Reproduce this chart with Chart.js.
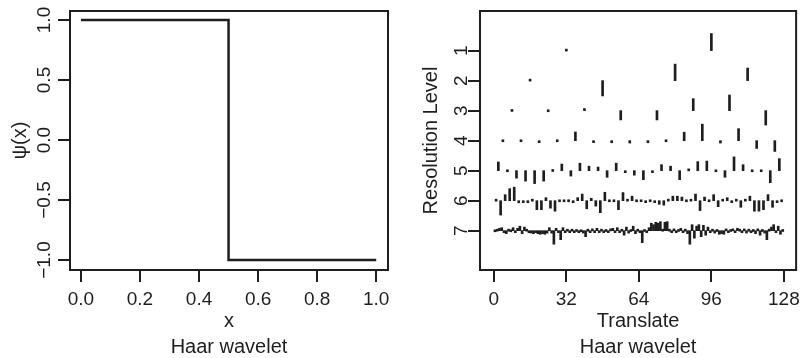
<!DOCTYPE html>
<html>
<head>
<meta charset="utf-8">
<script src="https://cdn.jsdelivr.net/npm/chart.js@4.4.1/dist/chart.umd.min.js"></script>
<style>
  html, body { margin: 0; padding: 0; background: #fff; }
  #wrap { position: relative; width: 806px; height: 358px; }
  canvas { position: absolute; top: 0; }
  #haarFn { left: 0; }
  #haarCoef { left: 400px; }
</style>
</head>
<body>
<div id="wrap">
  <canvas id="haarFn" width="400" height="358"></canvas>
  <canvas id="haarCoef" width="406" height="358"></canvas>
</div>
<script>
// ---- left panel: Haar mother wavelet psi(x) ----
const psiX = [0, 0.5, 0.5, 1];
const psiY = [1, 1, -1, -1];
const psiXTicks = [0, 0.2, 0.4, 0.6, 0.8, 1.0];
const psiYTicks = [-1, -0.5, 0, 0.5, 1];

// ---- right panel: wavelet coefficients by resolution level ----
// signed length of each coefficient's segment, in level units (positive = up)
const translateTicks = [0, 32, 64, 96, 128];
const levelTicks = [1, 2, 3, 4, 5, 6, 7];

const level1 = [0.05, 0.57];
const level2 = [0.05, -0.51, 0.55, 0.42];
const level3 = [0.04, 0.03, 0.07, -0.31, -0.31, 0.40, 0.52, -0.48];
const level4 = [0.03, 0.03, -0.06, 0.03, 0.29, -0.03, -0.07, -0.08,
                -0.07, 0.03, 0.28, 0.55, -0.08, 0.40, -0.26, -0.36];
const level5 = [0.29, 0.03, -0.25, -0.35, -0.43, -0.35, 0.04, 0.22,
                -0.18, 0.25, 0.15, 0.12, -0.22, 0.25, -0.05, -0.15,
                -0.30, -0.04, 0.20, 0.15, -0.30, 0.06, 0.30, 0.32,
                0.03, -0.22, 0.46, 0.20, 0.03, 0.03, -0.40, 0.40];
const level6 = [0.05, -0.48, 0.20, 0.40, 0.45, -0.07, -0.05, -0.03,
                0.05, -0.30, -0.30, 0.10, -0.25, -0.35, 0.03, 0.03,
                0.03, -0.05, 0.10, 0.22, -0.27, 0.08, -0.18, -0.40,
                0.28, 0.03, 0.03, -0.30, 0.27, 0.05, 0.15, 0.03,
                0.03, -0.03, 0.03, -0.03, -0.12, -0.15, 0.05, 0.15,
                0.15, 0.12, 0.03, 0.05, 0.22, -0.33, 0.12, 0.03,
                0.20, -0.20, 0.05, 0.10, -0.05, 0.05, -0.22, 0.05,
                0.15, -0.35, -0.35, -0.30, 0.20, -0.22, -0.05, 0.03];
const level7 = [0.03, 0.05, 0.08, 0.10, -0.05, -0.10, 0.05, 0.03,
                0.10, -0.05, 0.08, 0.15, -0.10, 0.12, 0.05, -0.06,
                -0.08, -0.10, -0.06, -0.10, -0.12, -0.10, -0.12, -0.08,
                0.10, -0.08, -0.45, 0.08, -0.05, -0.30, 0.10, -0.05,
                0.05, -0.04, 0.05, -0.06, 0.04, -0.05, 0.03, -0.08,
                -0.20, 0.05, -0.04, 0.06, -0.05, 0.08, -0.04, 0.05,
                -0.06, 0.04, -0.05, 0.06, 0.08, -0.05, 0.10, -0.04,
                0.05, -0.15, 0.12, -0.08, 0.04, 0.15, -0.10, 0.05,
                -0.05, -0.40, 0.04, -0.06, 0.10, 0.25, 0.20, 0.28,
                0.25, 0.30, 0.05, 0.28, 0.30, 0.05, -0.04, 0.06,
                -0.05, 0.04, 0.08, -0.06, 0.05, -0.10, -0.45, 0.20,
                -0.25, 0.15, 0.20, -0.20, 0.18, -0.15, 0.12, -0.05,
                0.05, -0.08, 0.04, -0.12, -0.10, -0.12, 0.06, -0.05,
                0.04, 0.06, -0.05, 0.08, 0.05, -0.04, 0.06, -0.08,
                0.05, -0.06, 0.04, -0.10, 0.06, -0.15, 0.04, -0.08,
                -0.30, 0.05, 0.12, 0.20, -0.05, 0.15, -0.12, 0.04];
const levels = [level1, level2, level3, level4, level5, level6, level7];

const ink = '#1e1e1e';
const family = '"Liberation Sans", Arial, sans-serif';

// R-style frame round the plot region
const boxPlugin = {
  id: 'box',
  afterDraw(chart) {
    const {ctx, chartArea: a} = chart;
    ctx.save();
    ctx.strokeStyle = ink;
    ctx.lineWidth = 2;
    ctx.strokeRect(a.left, a.top, a.right - a.left, a.bottom - a.top);
    ctx.restore();
  }
};

// y tick labels are drawn rotated, like R's las=0
function rotatedYLabels(format, baseX) {
  return {
    id: 'rotY',
    afterDraw(chart) {
      const s = chart.scales.y;
      const ctx = chart.ctx;
      ctx.save();
      ctx.fillStyle = ink;
      ctx.font = '19px ' + family;
      ctx.textAlign = 'center';
      ctx.textBaseline = 'alphabetic';
      s.ticks.forEach(t => {
        ctx.save();
        ctx.translate(baseX, s.getPixelForValue(t.value));
        ctx.rotate(-Math.PI / 2);
        ctx.fillText(format(t.value), 0, 0);
        ctx.restore();
      });
      ctx.restore();
    }
  };
}

const tickGrid = { drawOnChartArea: false, drawTicks: true, tickLength: 12, color: ink, lineWidth: 2, offset: false };
const fixTicks = arr => scale => { scale.ticks = arr.map(v => ({value: v})); };
const minus = v => (v < 0 ? '\u2212' : '') + Math.abs(v).toFixed(1);

new Chart(document.getElementById('haarFn'), {
  type: 'scatter',
  data: {
    datasets: [{
      data: psiX.map((x, i) => ({x: x, y: psiY[i]})),
      showLine: true,
      borderColor: ink,
      borderWidth: 2.5,
      pointRadius: 0,
      tension: 0
    }]
  },
  options: {
    responsive: false,
    animation: false,
    events: [],
    layout: { padding: { top: 11, right: 12, left: 0, bottom: 0 } },
    plugins: { legend: { display: false }, tooltip: { enabled: false } },
    scales: {
      x: {
        type: 'linear', min: -0.037, max: 1.04,
        afterBuildTicks: fixTicks(psiXTicks),
        afterFit: s => { s.height = 88; },
        grid: tickGrid,
        border: { display: false },
        ticks: { color: ink, font: { family: family, size: 19 }, padding: 6, maxRotation: 0, autoSkip: false,
                 callback: v => minus(v) },
        title: { display: true, text: ['x', 'Haar wavelet'], color: ink,
                 font: { family: family, size: 20, lineHeight: 1.3 }, padding: { top: 0, bottom: -2 } }
      },
      y: {
        type: 'linear', min: -1.083, max: 1.075,
        afterBuildTicks: fixTicks(psiYTicks),
        afterFit: s => { s.width = 70; },
        grid: tickGrid,
        border: { display: false },
        ticks: { display: false },
        title: { display: true, text: '\u03c8(x)', color: ink,
                 font: { family: family, size: 20, lineHeight: 1.2 }, padding: { top: 8, bottom: 0 } }
      }
    }
  },
  plugins: [boxPlugin, rotatedYLabels(minus, 50)]
});

// coefficient k of level j sits at the centre of its dyadic interval
const coefDatasets = levels.map((vals, j) => {
  const level = j + 1;
  const width = 128 / vals.length;
  return {
    data: vals.map((d, k) => ({x: (k + 0.5) * width, y: [level, level - d]})),
    backgroundColor: ink,
    borderWidth: 0,
    barThickness: 2,
    minBarLength: 2,
    grouped: false
  };
});

new Chart(document.getElementById('haarCoef'), {
  type: 'bar',
  data: { datasets: coefDatasets },
  options: {
    responsive: false,
    animation: false,
    events: [],
    layout: { padding: { top: 11, right: 7, left: 0, bottom: 0 } },
    plugins: { legend: { display: false }, tooltip: { enabled: false } },
    scales: {
      x: {
        type: 'linear', min: -6.1, max: 133.4, offset: false,
        afterBuildTicks: fixTicks(translateTicks),
        afterFit: s => { s.height = 88; },
        grid: tickGrid,
        border: { display: false },
        ticks: { color: ink, font: { family: family, size: 19 }, padding: 6, maxRotation: 0, autoSkip: false,
                 callback: v => String(v) },
        title: { display: true, text: ['Translate', 'Haar wavelet'], color: ink,
                 font: { family: family, size: 20, lineHeight: 1.3 }, padding: { top: 0, bottom: -2 } }
      },
      y: {
        type: 'linear', reverse: true, min: -0.32, max: 8.31,
        afterBuildTicks: fixTicks(levelTicks),
        afterFit: s => { s.width = 80; },
        grid: tickGrid,
        border: { display: false },
        ticks: { display: false },
        title: { display: true, text: 'Resolution Level', color: ink,
                 font: { family: family, size: 20, lineHeight: 1.2 }, padding: { top: 19, bottom: 0 } }
      }
    }
  },
  plugins: [boxPlugin, rotatedYLabels(v => String(v), 67)]
});
</script>
</body>
</html>
